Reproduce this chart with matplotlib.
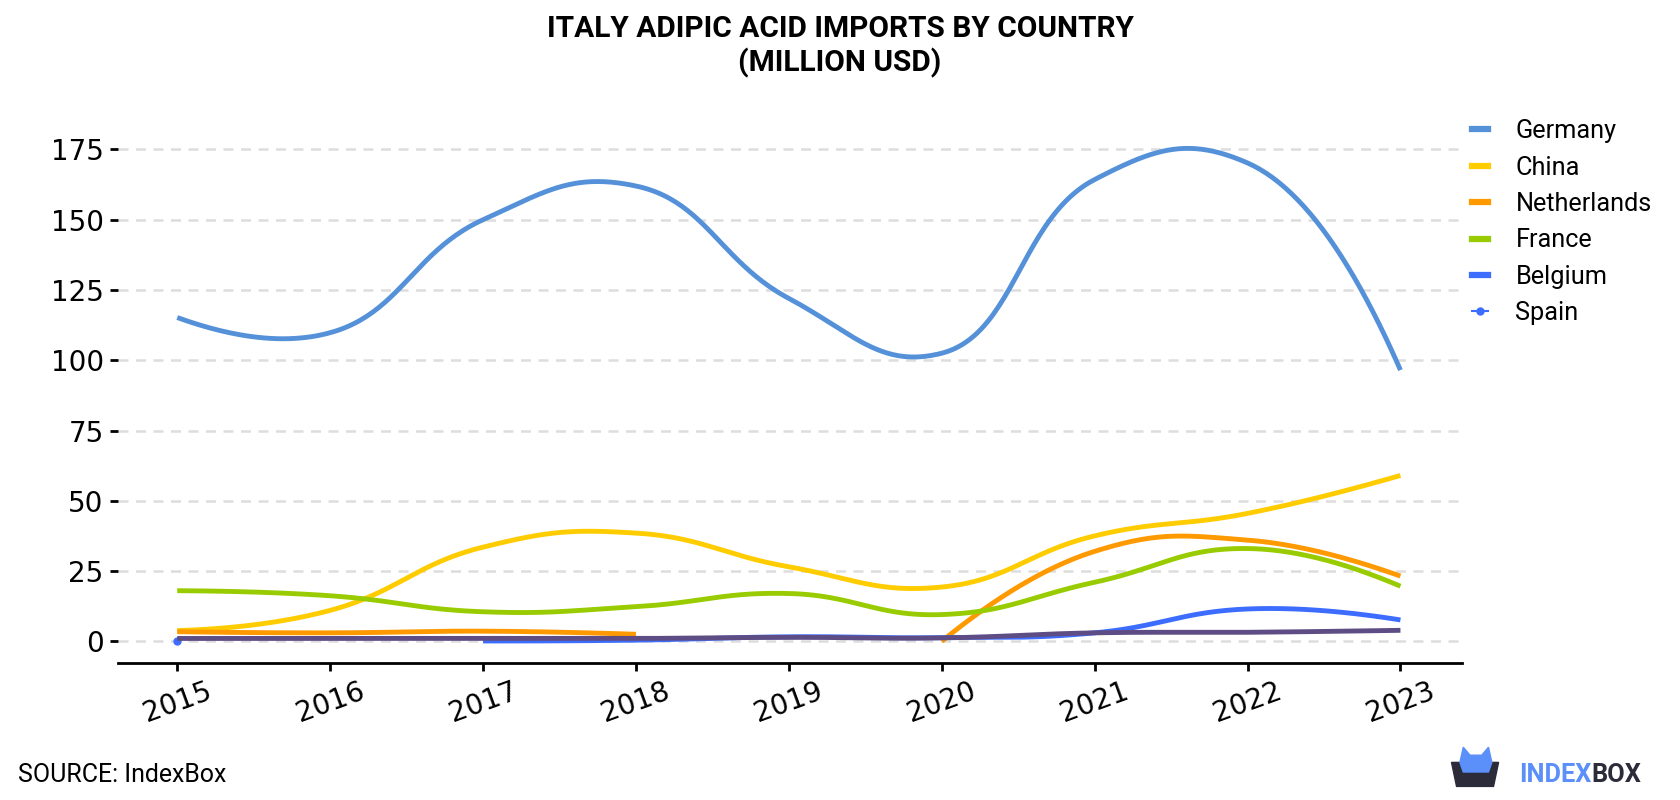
"""
Italy adipic acid imports by country (million USD)
"""
import numpy as np
import matplotlib
matplotlib.use("Agg")
import matplotlib.pyplot as plt
from matplotlib.lines import Line2D
from matplotlib.patches import Polygon

# Data, None = no value
years = [2015, 2016, 2017, 2018, 2019, 2020, 2021, 2022, 2023]
germany = [115.2, 109.8, 150.0, 162.0, 122.0, 102.5, 164.3, 170.2, 96.5]
china = [3.8, 11.0, 33.5, 38.5, 26.5, 19.3, 37.5, 45.5, 59.0]
netherlands = [3.4, 3.0, 3.6, 2.5, None, 0.0, 32.0, 36.0, 23.2]
france = [18.0, 16.2, 10.5, 12.3, 17.0, 9.5, 21.0, 33.0, 19.6]
belgium = [None, None, 0.1, 0.4, 1.6, 1.3, 3.0, 11.5, 7.6]
spain = [0.0, None, None, None, None, None, None, None, None]
other = [1.0, 1.0, 1.0, 1.0, 1.4, 1.2, 3.0, 3.2, 3.9]

series = [
    ("Germany", germany, "#5591d8"),
    ("China", china, "#ffcc00"),
    ("Netherlands", netherlands, "#ff9900"),
    ("France", france, "#99cc00"),
    ("Belgium", belgium, "#3d6dff"),
]

SMOOTH = 1.3


def tangent(p0, p1, p2, smooth=SMOOTH):
    # centripetal catmull-rom control points (pixel space)
    d1 = p0 - p1
    d2 = p2 - p1
    d1a = np.hypot(*d1) ** 0.5
    d2a = np.hypot(*d2) ** 0.5
    num = (d2a * d2a * d1 - d1a * d1a * d2) * smooth
    den1 = 3 * d2a * (d1a + d2a)
    den2 = 3 * d1a * (d1a + d2a)
    return p1 + num / den1, p1 - num / den2


def smooth_line(ax, x, y, n=50):
    pts = ax.transData.transform(np.column_stack([x, y]))
    if len(pts) < 3:
        return x, y
    tg = [tangent(pts[i - 1], pts[i], pts[i + 1]) for i in range(1, len(pts) - 1)]
    t = np.linspace(0, 1, n)[:, None]
    out = []
    # first piece: quadratic
    a, c, b = pts[0], tg[0][0], pts[1]
    out.append((1 - t) ** 2 * a + 2 * (1 - t) * t * c + t ** 2 * b)
    for i in range(2, len(pts) - 1):
        a, c1, c2, b = pts[i - 1], tg[i - 2][1], tg[i - 1][0], pts[i]
        out.append((1 - t) ** 3 * a + 3 * (1 - t) ** 2 * t * c1
                   + 3 * (1 - t) * t ** 2 * c2 + t ** 3 * b)
    a, c, b = pts[-2], tg[-1][1], pts[-1]
    out.append((1 - t) ** 2 * a + 2 * (1 - t) * t * c + t ** 2 * b)
    d = ax.transData.inverted().transform(np.vstack(out))
    return d[:, 0], d[:, 1]


def pieces(x, y):
    # split a series into runs without missing values
    runs, cur = [], []
    for xi, yi in zip(x, y):
        if yi is None:
            if cur:
                runs.append(cur)
            cur = []
        else:
            cur.append((xi, yi))
    if cur:
        runs.append(cur)
    return runs


plt.rcParams['font.family'] = ['Roboto', 'DejaVu Sans']

fig = plt.figure(figsize=(16.8, 8), dpi=100)
ax = fig.add_axes([0.070, 0.171, 0.800, 0.691])
ax.set_xlim(2014.61, 2023.4)
ax.set_ylim(-7.8, 188.9)

for name, vals, col in series:
    for run in pieces(years, vals):
        rx, ry = zip(*run)
        sx, sy = smooth_line(ax, rx, ry)
        ax.plot(sx, sy, color=col, lw=3.5, solid_capstyle='butt', zorder=3)

# Spain: one point only
ax.plot([years[0]], [spain[0]], 'o', color="#3d6dff", ms=5, zorder=4)

# unlabeled series drawn on top
sx, sy = smooth_line(ax, years, other)
ax.plot(sx, sy, color="#5e4d84", lw=3.5, solid_capstyle='butt', zorder=4)

ax.set_yticks([0, 25, 50, 75, 100, 125, 150, 175])
ax.set_xticks(years)
ax.set_xticklabels([str(y) for y in years], rotation=20, fontfamily='DejaVu Sans')
for lab in ax.get_yticklabels():
    lab.set_fontfamily('DejaVu Sans')
ax.tick_params(axis='both', labelsize=20, length=6, width=2, color='black', pad=4)
ax.grid(axis='y', color='#dddddd', ls=(0, (4, 3)), lw=1.8)
ax.set_axisbelow(True)
for s in ['top', 'right', 'left']:
    ax.spines[s].set_visible(False)
ax.spines['bottom'].set_linewidth(2)

handles = [Line2D([], [], color=c, lw=4.5) for _, _, c in series]
handles.append(Line2D([], [], color="#3d6dff", lw=1.5, marker='o', ms=5))
labels = [s[0] for s in series] + ["Spain"]
fig.legend(handles, labels, loc='upper left', bbox_to_anchor=(0.8762, 0.851),
           frameon=False, fontsize=18.2, handlelength=0.62, labelspacing=0.49,
           handletextpad=1.1, borderpad=0, borderaxespad=0)

fig.text(0.5, 0.981, "ITALY ADIPIC ACID IMPORTS BY COUNTRY\n(MILLION USD)",
         ha='center', va='top', fontsize=21.5, fontweight='bold', linespacing=1.22)
fig.text(0.011, 0.031, "SOURCE: IndexBox", fontsize=17.9, va='center')

# logo
fig.patches.append(Polygon([[0.864, 0.047], [0.892, 0.047], [0.889, 0.017],
                            [0.867, 0.017]], closed=True, transform=fig.transFigure,
                           color='#2b2b3a'))
fig.patches.append(Polygon([[0.869, 0.047], [0.871, 0.066], [0.875, 0.056],
                            [0.882, 0.056], [0.886, 0.066], [0.888, 0.047],
                            [0.886, 0.035], [0.871, 0.035]],
                           closed=True, transform=fig.transFigure, color='#5b8ff9'))
t1 = fig.text(0.904, 0.031, "INDEX", color='#5b8ff9', fontsize=18.3, fontweight='bold',
              va='center')
r = fig.canvas.get_renderer()
bb = t1.get_window_extent(r).transformed(fig.transFigure.inverted())
fig.text(bb.x1, 0.031, "BOX", color='#2b2b3a', fontsize=18.3, fontweight='bold', va='center')

fig.savefig("out.png", dpi=100)
